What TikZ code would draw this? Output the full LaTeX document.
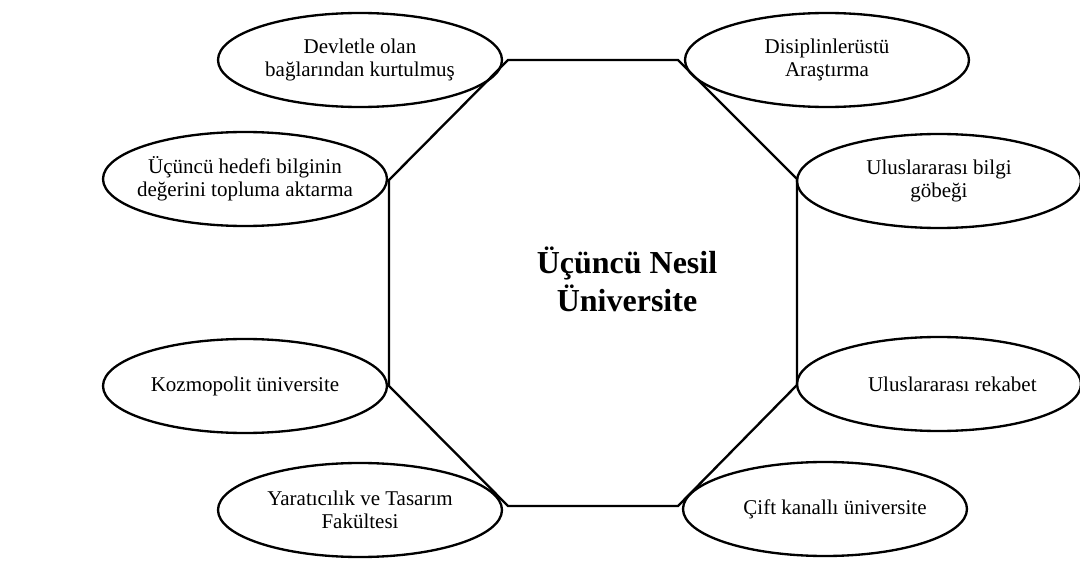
\documentclass[tikz,border=0pt]{standalone}
\usepackage{fontspec}
\setmainfont{Liberation Serif}
\usepackage{tikz}
\usetikzlibrary{shapes.geometric}

\tikzset{
  bubble/.style={draw,ellipse,line width=1.4pt,minimum width=170.4pt,minimum height=56.4pt,
    inner xsep=-15pt,inner ysep=0pt,align=center,font=\fontsize{12.6}{13.6}\selectfont},
  core/.style={align=center,font=\fontsize{19.2}{22.8}\selectfont\bfseries}
}

\begin{document}
\begin{tikzpicture}[line cap=round,line join=miter,x=0.6pt,y=-0.6pt]

\useasboundingbox (0,0) rectangle (1080,563);

% octagon corners
\coordinate (o1) at (508,60);
\coordinate (o2) at (678,60);
\coordinate (o3) at (797,179);
\coordinate (o4) at (797,385);
\coordinate (o5) at (678,506);
\coordinate (o6) at (508,506);
\coordinate (o7) at (389,386);
\coordinate (o8) at (389,180);

\draw[line width=1.4pt,fill=white] (o1)-- (o2)-- (o3)-- (o4)-- (o5)-- (o6)-- (o7)-- (o8)-- cycle;

\node[core] (merkez) at (627,279) {Üçüncü Nesil\\Üniversite};

% left side
\node[bubble] (devlet) at (360,60) {Devletle olan\\bağlarından kurtulmuş};
\node[bubble] (hedef) at (245,179) {Üçüncü hedefi bilginin\\değerini topluma aktarma};
\node[bubble] (kozmo) at (245,386) {Kozmopolit üniversite};
\node[bubble] (yaratici) at (360,510) {Yaratıcılık ve Tasarım\\Fakültesi};

% right side
\node[bubble] (disiplin) at (827,60) {Disiplinlerüstü\\Araştırma};
\node[bubble] (bilgi) at (939,181) {Uluslararası bilgi\\göbeği};
\node[bubble] (rekabet) at (939,384) {\hspace*{16pt}Uluslararası rekabet};
\node[bubble] (cift) at (825,509) {\hspace*{12pt}Çift kanallı üniversite};

\end{tikzpicture}
\end{document}
